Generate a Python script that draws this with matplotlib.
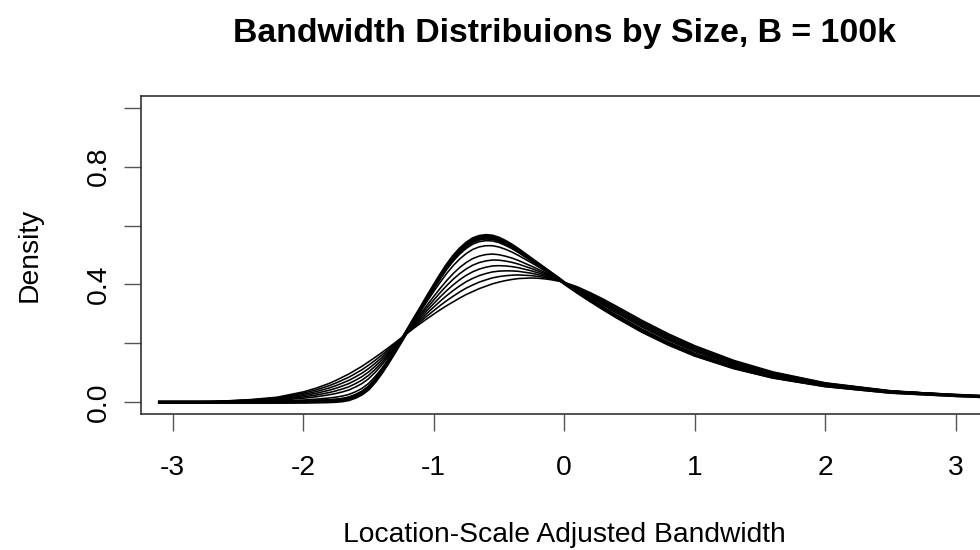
import matplotlib
matplotlib.use("Agg")
import matplotlib.pyplot as plt

plt.rcParams['font.family'] = ['Liberation Sans', 'DejaVu Sans']

title = "Bandwidth Distribuions by Size, B = 100k"
x_label = "Location-Scale Adjusted Bandwidth"
y_label = "Density"

x_ticks = [-3, -2, -1, 0, 1, 2, 3]
y_ticks = [0.0, 0.2, 0.4, 0.6, 0.8, 1.0]
y_tick_labels = ["0.0", "", "0.4", "", "0.8", ""]

# evaluation grid of the density curves
x_grid = [-3.1, -2.7, -2.4, -2.2, -2.0, -1.9, -1.8, -1.75, -1.7, -1.65, -1.6, -1.55,
          -1.5, -1.45, -1.4, -1.35, -1.3, -1.25, -1.2, -1.15, -1.1, -1.05, -1.0, -0.95,
          -0.9, -0.85, -0.8, -0.75, -0.7, -0.65, -0.6, -0.55, -0.5, -0.45, -0.4, -0.35,
          -0.3, -0.25, -0.2, -0.15, -0.1, -0.05, 0.0, 0.1, 0.2, 0.3, 0.4, 0.6, 0.8, 1.0,
          1.3, 1.6, 2.0, 2.5, 3.0, 3.5, 4.0]

# smallest sizes: broad curves
dens_01 = [0.0, 0.002, 0.009, 0.017, 0.035, 0.048, 0.064, 0.074, 0.085, 0.096, 0.109, 0.122,
           0.137, 0.152, 0.168, 0.184, 0.201, 0.218, 0.235, 0.252, 0.268, 0.284, 0.299, 0.314,
           0.328, 0.341, 0.354, 0.366, 0.376, 0.386, 0.394, 0.402, 0.408, 0.413, 0.417, 0.420,
           0.421, 0.422, 0.421, 0.419, 0.416, 0.412, 0.407, 0.392, 0.372, 0.350, 0.326, 0.277, 0.232, 0.192,
           0.142, 0.103, 0.066, 0.039, 0.025, 0.015, 0.009]
dens_02 = [0.0, 0.0018, 0.0079, 0.0149, 0.0307, 0.0421, 0.0563, 0.0651, 0.075, 0.0851, 0.0975, 0.1103,
           0.1255, 0.1418, 0.1595, 0.1778, 0.1971, 0.2166, 0.2363, 0.2559, 0.2745, 0.2933, 0.311, 0.3286,
           0.3451, 0.3603, 0.3748, 0.3878, 0.3984, 0.4081, 0.4155, 0.4223, 0.4266, 0.4296, 0.4315, 0.4323,
           0.4311, 0.430, 0.4271, 0.4234, 0.4188, 0.4133, 0.4068, 0.3898, 0.3686, 0.3459, 0.3215, 0.2724, 0.2276, 0.188,
           0.1389, 0.1008, 0.0648, 0.0384, 0.0248, 0.0149, 0.0089]
dens_03 = [0.0, 0.0015, 0.0068, 0.0128, 0.0264, 0.0362, 0.0485, 0.0562, 0.065, 0.0742, 0.086, 0.0985,
           0.114, 0.1315, 0.151, 0.1715, 0.1932, 0.2152, 0.2375, 0.2598, 0.281, 0.3025, 0.323, 0.3432,
           0.3622, 0.3795, 0.3955, 0.4095, 0.4208, 0.4302, 0.437, 0.4425, 0.4452, 0.4462, 0.446, 0.4445,
           0.4412, 0.438, 0.4332, 0.4278, 0.4215, 0.4145, 0.4065, 0.3875, 0.3652, 0.3418, 0.317, 0.2678, 0.2232, 0.184,
           0.1358, 0.0985, 0.0635, 0.0378, 0.0245, 0.0148, 0.0088]
dens_04 = [0.0, 0.0013, 0.0056, 0.0106, 0.0221, 0.0303, 0.0408, 0.0473, 0.055, 0.0633, 0.0745, 0.0868,
           0.1025, 0.1213, 0.1425, 0.1653, 0.1893, 0.2138, 0.2388, 0.2637, 0.2875, 0.3118, 0.335, 0.3578,
           0.3793, 0.3988, 0.4163, 0.4313, 0.4432, 0.4523, 0.4585, 0.4628, 0.4638, 0.4628, 0.4605, 0.4568,
           0.4513, 0.446, 0.4393, 0.4322, 0.4243, 0.4158, 0.4063, 0.3853, 0.3618, 0.3377, 0.3125, 0.2632, 0.2188, 0.180,
           0.1327, 0.0963, 0.0623, 0.0372, 0.0243, 0.0147, 0.0087]
dens_05 = [0.0, 0.0010, 0.0045, 0.0085, 0.0178, 0.0244, 0.033, 0.0384, 0.045, 0.0524, 0.063, 0.075,
           0.091, 0.111, 0.134, 0.159, 0.1854, 0.2124, 0.240, 0.2676, 0.294, 0.321, 0.347, 0.3724,
           0.3964, 0.418, 0.437, 0.453, 0.4656, 0.4744, 0.480, 0.483, 0.4824, 0.4794, 0.475, 0.469,
           0.4614, 0.454, 0.4454, 0.4366, 0.427, 0.417, 0.406, 0.383, 0.3584, 0.3336, 0.308, 0.2586, 0.2144, 0.176,
           0.1296, 0.094, 0.061, 0.0366, 0.024, 0.0146, 0.0086]
dens_06 = [0.0, 0.0008, 0.0034, 0.0064, 0.0135, 0.0185, 0.0253, 0.0295, 0.035, 0.0415, 0.0515, 0.0633,
           0.0795, 0.1008, 0.1255, 0.1528, 0.1815, 0.211, 0.2413, 0.2715, 0.3005, 0.3303, 0.359, 0.387,
           0.4135, 0.4373, 0.4578, 0.4748, 0.488, 0.4965, 0.5015, 0.5033, 0.501, 0.496, 0.4895, 0.4813,
           0.4715, 0.462, 0.4515, 0.441, 0.4298, 0.4183, 0.4058, 0.3808, 0.355, 0.3295, 0.3035, 0.254, 0.210, 0.172,
           0.1265, 0.0918, 0.0598, 0.036, 0.0238, 0.0145, 0.0085]
# medium sizes
dens_07 = [0.0, 0.0004, 0.0018, 0.0034, 0.0074, 0.0104, 0.0144, 0.0172, 0.021, 0.0264, 0.0354, 0.0468,
           0.0634, 0.0864, 0.1136, 0.144, 0.1762, 0.2092, 0.243, 0.2768, 0.3096, 0.3432, 0.3758, 0.4076,
           0.4376, 0.4642, 0.4868, 0.5052, 0.5192, 0.5276, 0.5316, 0.5316, 0.5272, 0.5194, 0.5098, 0.4984,
           0.4858, 0.4732, 0.4602, 0.447, 0.4336, 0.420, 0.4054, 0.3776, 0.3504, 0.3236, 0.2972, 0.2474, 0.204, 0.1664,
           0.122, 0.0886, 0.058, 0.035, 0.0234, 0.0142, 0.0082]
dens_08 = [0.0, 0.0002, 0.0009, 0.0017, 0.004, 0.0057, 0.0082, 0.0101, 0.013, 0.0177, 0.0262, 0.0374,
           0.0542, 0.0782, 0.1068, 0.139, 0.1731, 0.2081, 0.244, 0.2799, 0.3148, 0.3506, 0.3854, 0.4193,
           0.4513, 0.4796, 0.5034, 0.5226, 0.5371, 0.5453, 0.5488, 0.5478, 0.5421, 0.5327, 0.5214, 0.5082,
           0.4939, 0.4796, 0.4651, 0.4505, 0.4358, 0.421, 0.4052, 0.3758, 0.3477, 0.3203, 0.2936, 0.2437, 0.2005, 0.1632,
           0.1195, 0.0868, 0.057, 0.0345, 0.0232, 0.0141, 0.0081]
# largest sizes: converged, sharp curves
dens_09 = [0.0, 0.0001, 0.0005, 0.0009, 0.0022, 0.0034, 0.0051, 0.0066, 0.009, 0.0134, 0.0216, 0.0327,
           0.0496, 0.0741, 0.1034, 0.1365, 0.1716, 0.2076, 0.2445, 0.2815, 0.3174, 0.3543, 0.3902, 0.4252,
           0.4582, 0.4873, 0.5117, 0.5313, 0.5461, 0.5542, 0.5574, 0.5559, 0.5496, 0.5394, 0.5272, 0.5131,
           0.498, 0.4828, 0.4676, 0.4523, 0.4369, 0.4215, 0.4051, 0.3749, 0.3464, 0.3187, 0.2918, 0.2419, 0.1988, 0.1616,
           0.1183, 0.0859, 0.0565, 0.0343, 0.0231, 0.0141, 0.0081]
dens_10 = [0.0, 0.0, 0.0, 0.0, 0.0005, 0.001, 0.002, 0.003, 0.005, 0.009, 0.017, 0.028,
           0.045, 0.070, 0.100, 0.134, 0.170, 0.207, 0.245, 0.283, 0.320, 0.358, 0.395, 0.431,
           0.465, 0.495, 0.520, 0.540, 0.555, 0.563, 0.566, 0.564, 0.557, 0.546, 0.533, 0.518,
           0.502, 0.486, 0.470, 0.454, 0.438, 0.422, 0.405, 0.374, 0.345, 0.317, 0.290, 0.240, 0.197, 0.160,
           0.117, 0.085, 0.056, 0.034, 0.023, 0.014, 0.008]

thin_curves = [dens_01, dens_02, dens_03, dens_04, dens_05, dens_06, dens_07, dens_08]
thick_curves = [dens_09, dens_10]

W, H = 980, 550
fig = plt.figure(figsize=(W / 100, H / 100), dpi=100)
ax_left, ax_right, ax_top, ax_bottom = 141.4, 987.0, 96.0, 414.0
ax = fig.add_axes([ax_left / W, 1 - ax_bottom / H, (ax_right - ax_left) / W, (ax_bottom - ax_top) / H])

for c in thin_curves:
    ax.plot(x_grid, c, color='black', lw=1.15, solid_joinstyle='round')
for c in thick_curves:
    ax.plot(x_grid, c, color='black', lw=2.5, solid_joinstyle='round')

ax.set_xlim(-3.24, 3.24)
ax.set_ylim(-0.04, 1.04)
ax.set_xticks(x_ticks)
ax.set_xticklabels([str(t) for t in x_ticks])
ax.set_yticks(y_ticks)
ax.set_yticklabels(y_tick_labels)

for s in ax.spines.values():
    s.set_linewidth(1.2)
    s.set_color('#333333')
ax.tick_params(direction='out', length=12.2, width=1.0, color='#555555', labelsize=20.3)
ax.tick_params(axis='x', pad=17)
ax.tick_params(axis='y', pad=9, labelrotation=90)
for lab in ax.get_yticklabels():
    lab.set_va('center')

cx = (ax_left + ax_right) / 2 / W
fig.text(cx, 1 - 42 / H, title, ha='center', va='baseline', fontsize=24.4, fontweight='bold')
fig.text(cx, 1 - 542 / H, x_label, ha='center', va='baseline', fontsize=20.3)
fig.text(37 / W, 1 - 255 / H, y_label, ha='center', va='baseline', rotation=90,
         rotation_mode='anchor', fontsize=20.3)

fig.savefig("out.png", dpi=100)
